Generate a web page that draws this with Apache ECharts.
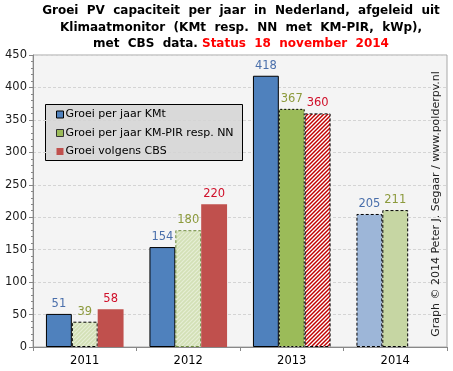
<!DOCTYPE html>
<html><head><meta charset="utf-8">
<script src="https://cdn.jsdelivr.net/npm/echarts@6/dist/echarts.min.js"></script>
<style>html,body{margin:0;padding:0;background:#fff}#c{width:453px;height:371px}</style>
</head><body><div id="c"></div>
<script>
var years = ['2011', '2012', '2013', '2014'];
var groeiKMt = [51, 154, 418, 205];
var groeiKMPIR = [39, 180, 367, 211];
var groeiCBS = [58, 220, 360, null];
var seriesNames = ['Groei per jaar KMt', 'Groei per jaar KM-PIR resp. NN', 'Groei volgens CBS'];
var yTicks = [0, 50, 100, 150, 200, 250, 300, 350, 400, 450];

function hatch(bg, fg, size, lw) {
  var c = document.createElement('canvas');
  c.width = size; c.height = size;
  var g = c.getContext('2d');
  g.fillStyle = bg; g.fillRect(0, 0, size, size);
  g.strokeStyle = fg; g.lineWidth = lw;
  g.beginPath();
  g.moveTo(-1, size + 1); g.lineTo(size + 1, -1);
  g.moveTo(-1, 1); g.lineTo(1, -1);
  g.moveTo(size - 1, size + 1); g.lineTo(size + 1, size - 1);
  g.stroke();
  return { image: c, repeat: 'repeat' };
}
var greenHatch = hatch('#D3E0B6', '#E6EED5', 4, 1.2);
var redHatch = hatch('#C00000', '#FFFFFF', 4, 1.4);

var FONT = 'DejaVu Sans';
var blueStyles = [
  { color: '#4F81BD', borderColor: '#000', borderWidth: 1 },
  { color: '#4F81BD', borderColor: '#000', borderWidth: 1 },
  { color: '#4F81BD', borderColor: '#000', borderWidth: 1 },
  { color: '#9DB6D8', borderColor: '#000', borderWidth: 1, borderType: [3, 2] }
];
var greenStyles = [
  { color: greenHatch, borderColor: '#000', borderWidth: 1, borderType: [3, 2] },
  { color: greenHatch, borderColor: '#6E8B3D', borderWidth: 1, borderType: [3, 2] },
  { color: '#9BBB59', borderColor: '#000', borderWidth: 1, borderType: [2, 2] },
  { color: '#C6D6A3', borderColor: '#000', borderWidth: 1, borderType: [3, 2] }
];
var redStyles = [
  { color: '#C0504D', borderWidth: 0 },
  { color: '#C0504D', borderWidth: 0 },
  { color: redHatch, borderColor: '#000', borderWidth: 1, borderType: [3, 2] },
  {}
];
function mk(vals, styles) {
  return vals.map(function (v, i) { return { value: v, itemStyle: styles[i] }; });
}
function bar(name, vals, styles, color, labelColor) {
  return {
    name: name, type: 'bar', data: mk(vals, styles),
    barGap: '0%', barCategoryGap: '25%',
    itemStyle: { color: color },
    label: { show: true, position: 'top', distance: 4, color: labelColor, fontFamily: FONT, fontSize: 11.5 },
    emphasis: { disabled: true }
  };
}

var chart = echarts.init(document.getElementById('c'), null, { renderer: 'canvas' });
chart.setOption({
  animation: false,
  backgroundColor: '#fff',
  title: {
    left: 236, top: -2, textAlign: 'center',
    text: '{a|Groei  PV  capaciteit  per  jaar  in  Nederland,  afgeleid  uit}\n{a|Klimaatmonitor  (KMt  resp.  NN  met  KM-PIR,  kWp),}\n{a|met  CBS  data. }{r|Status  18  november  2014}',
    textStyle: {
      rich: {
        a: { fontFamily: FONT, fontWeight: 'bold', fontSize: 12, color: '#000', lineHeight: 16.5 },
        r: { fontFamily: FONT, fontWeight: 'bold', fontSize: 12, color: '#FF0000', lineHeight: 16.5 }
      }
    }
  },
  grid: { left: 33, right: 6, top: 55, bottom: 24, show: true, backgroundColor: '#F4F4F4', borderColor: '#A8A8A8', borderWidth: 1, containLabel: false },
  legend: {
    left: 56, top: 109, orient: 'vertical', itemGap: 7.5, itemWidth: 7, itemHeight: 7, icon: 'rect',
    padding: 0, selectedMode: false,
    textStyle: { fontFamily: FONT, fontSize: 11, color: '#000', padding: [0, 0, 0, -3] },
    data: [
      { name: seriesNames[0], itemStyle: { color: '#4F81BD', borderColor: '#000', borderWidth: 1 } },
      { name: seriesNames[1], itemStyle: { color: '#9BBB59', borderColor: '#333', borderWidth: 1 } },
      { name: seriesNames[2], itemStyle: { color: '#C0504D', borderWidth: 0 } }
    ]
  },
  graphic: [
    { type: 'rect', left: 45, top: 104, z: 0, shape: { width: 197, height: 56 }, style: { fill: '#D9D9D9', stroke: '#000', lineWidth: 1 } },
    { type: 'text', x: 436, y: 204, rotation: Math.PI / 2, z: 10,
      style: { text: 'Graph © 2014 Peter J. Segaar / www.polderpv.nl', fontFamily: FONT, fontSize: 11, fill: '#222', align: 'center', verticalAlign: 'middle' } }
  ],
  xAxis: {
    type: 'category', data: years,
    axisLine: { lineStyle: { color: '#888' } },
    axisTick: { show: true, length: 4, lineStyle: { color: '#888' } },
    axisLabel: { fontFamily: FONT, fontSize: 11.5, color: '#000', margin: 8 },
    splitLine: { show: false }
  },
  yAxis: {
    type: 'value', min: yTicks[0], max: yTicks[yTicks.length - 1], interval: 50,
    axisLine: { show: true, lineStyle: { color: '#888' } },
    axisTick: { show: true, length: 4, lineStyle: { color: '#888' } },
    minorTick: { show: true, splitNumber: 5, length: 2, lineStyle: { color: '#888' } },
    axisLabel: { fontFamily: FONT, fontSize: 11.5, color: '#1a1a1a', margin: 6 },
    splitLine: { lineStyle: { color: '#D4D4D4', type: [3, 2] } }
  },
  series: [
    bar(seriesNames[0], groeiKMt, blueStyles, '#4F81BD', '#4A6FAB'),
    bar(seriesNames[1], groeiKMPIR, greenStyles, '#9BBB59', '#8C9A3C'),
    bar(seriesNames[2], groeiCBS, redStyles, '#C0504D', '#D0102A')
  ]
});
</script></body></html>
